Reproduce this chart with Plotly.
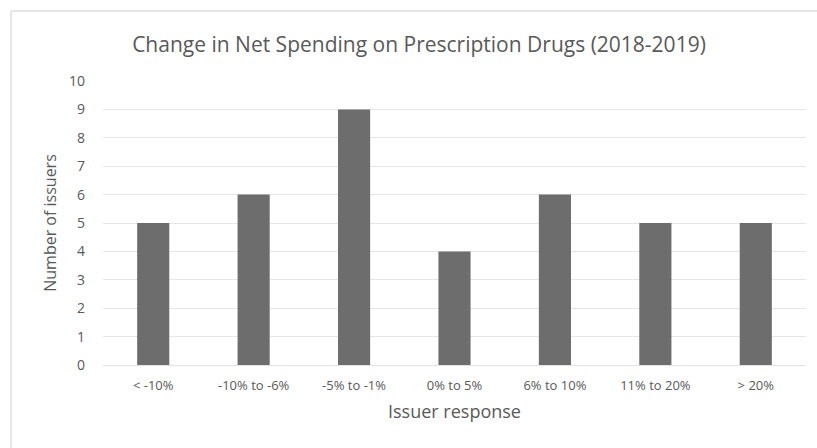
import plotly.graph_objects as go

categories = ["< -10%", "-10% to -6%", "-5% to -1%", "0% to 5%", "6% to 10%", "11% to 20%", "> 20%"]
values = [5, 6, 9, 4, 6, 5, 5]
y_ticks = list(range(0, 11))

L, R, T, B = 103, 11, 81, 83
W, H = 817, 448
pw, ph = W - L - R, H - T - B

def px_x(x):
    return (x - L) / pw

def px_y(y):
    return (H - B - y) / ph

fig = go.Figure(go.Bar(x=categories, y=values, marker_color="#6d6d6d", marker_line_width=0, width=0.32))

fig.update_layout(
    width=W, height=H,
    margin=dict(l=L, r=R, t=T, b=B),
    paper_bgcolor="white", plot_bgcolor="white",
    font=dict(family="Open Sans", color="#595959"),
    title=dict(text="Change in Net Spending on Prescription Drugs (2018-2019)",
               x=px_x(419), xref="paper", xanchor="center",
               y=1 - 45 / H, yref="container", yanchor="middle",
               font=dict(size=21, color="#595959")),
    showlegend=False,
    bargap=0.68,
)
fig.update_yaxes(range=[0, 10], tickvals=y_ticks, showgrid=True, gridcolor="#e6e6e6", gridwidth=1,
                 zeroline=False, showline=False, ticks="", ticklabelstandoff=17,
                 tickfont=dict(size=14, color="#595959"),
                 title=dict(text="Number of issuers", font=dict(size=16, color="#595959"), standoff=8))
fig.update_xaxes(showgrid=False, showline=True, linecolor="#e3e3e3", linewidth=1, ticks="",
                 ticklabelstandoff=8,
                 tickfont=dict(size=13, color="#595959"), tickangle=0,
                 title=dict(text="Issuer response", font=dict(size=18, color="#595959"), standoff=12))

fig.add_shape(type="line", xref="paper", yref="paper", x0=px_x(11), x1=px_x(820), y0=px_y(11), y1=px_y(11),
              line=dict(color="#e6e6e6", width=2))
fig.add_shape(type="line", xref="paper", yref="paper", x0=px_x(11), x1=px_x(11), y0=px_y(11), y1=px_y(460),
              line=dict(color="#e6e6e6", width=2))

fig.write_html("out.html")
